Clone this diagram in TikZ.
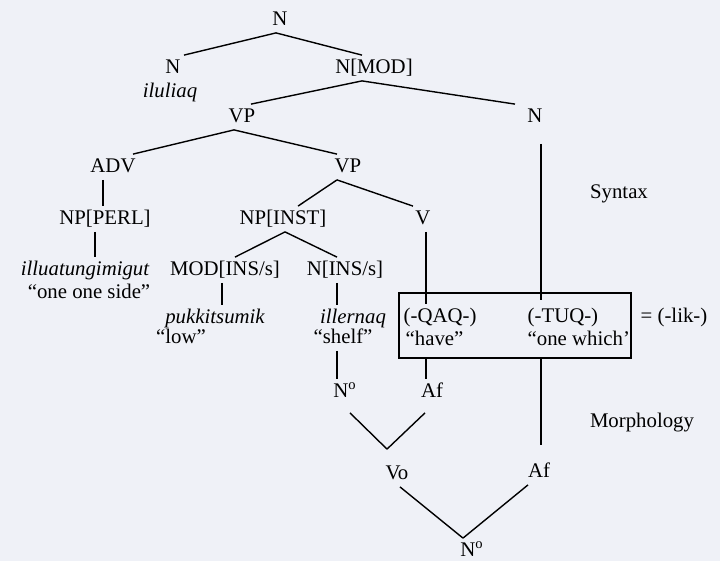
\documentclass[tikz,border=0pt]{standalone}
\usepackage{fontspec}
\setmainfont{Liberation Serif}
\usepackage{tikz}
\definecolor{paper}{RGB}{239,241,247}

\begin{document}
\begin{tikzpicture}[x = .5pt, y = -.5pt, line width = .7pt,
    lbl/.style = {font = \fontsize{10.4}{12}\selectfont, inner sep = 1.5pt, text height = 7.2pt, text depth = 2pt},
    word/.style = {lbl, font = \fontsize{10.4}{12}\selectfont\itshape}]
        \fill[paper] (0,0) rectangle (720,561);
        \node[lbl] (ntop) at (280,20) {N};
        \node[lbl] (nleft) at (173,68) {N};
        \node[word] (iluliaq) at (170,92) {iluliaq};
        \node[lbl] (nmod) at (374,68) {N[MOD]};
        \node[lbl] (vpa) at (242,117) {VP};
        \node[lbl] (nright) at (535,117) {N};
        \node[lbl] (adv) at (113,167) {ADV};
        \node[lbl] (vpb) at (348,167) {VP};
        \node[lbl] (syntax) at (619,193) {Syntax};
        \node[lbl] (npperl) at (105,219) {NP[PERL]};
        \node[lbl] (npinst) at (283,219) {NP[INST]};
        \node[lbl] (v) at (423,219) {V};
        \node[word] (illu) at (85,270) {illuatungimigut};
        \node[lbl] (oneside) at (89,293) {“one one side”};
        \node[lbl] (modins) at (225,270) {MOD[INS/s]};
        \node[lbl] (nins) at (345,270) {N[INS/s]};
        \node[word] (pukk) at (215,318) {pukkitsumik};
        \node[lbl] (low) at (181,338) {“low”};
        \node[word] (iller) at (353,318) {illernaq};
        \node[lbl] (shelf) at (343,338) {“shelf”};
        \node[draw, minimum width = 116pt, minimum height = 32.5pt, inner sep = 0pt] (box) at (515,325.5) {};
        \node[lbl, anchor = west] (qaq) at (400,317) {(-QAQ-)};
        \node[lbl, anchor = west] (have) at (402,340) {“have”};
        \node[lbl, anchor = west] (tuq) at (524,317) {(-TUQ-)};
        \node[lbl, anchor = west] (which) at (524,340) {“one which’};
        \node[lbl] (lik) at (674,317) {= (-lik-)};
        \node[lbl] (noa) at (345,392) {N\textsuperscript{o}};
        \node[lbl] (afa) at (432,392) {Af};
        \node[lbl] (morph) at (642,422) {Morphology};
        \node[lbl] (vo) at (397,474) {Vo};
        \node[lbl] (afb) at (539,472) {Af};
        \node[lbl] (nob) at (472,551) {N\textsuperscript{o}};
        \draw ([xshift = -2pt]ntop.south) -- ([xshift = 5.5pt]nleft.north);
        \draw ([xshift = -2pt]ntop.south) -- ([xshift = -6pt]nmod.north);
        \draw ([xshift = -6pt]nmod.south) -- ([xshift = 4.5pt]vpa.north);
        \draw ([xshift = -6pt]nmod.south) -- ([xshift = -10pt]nright.north);
        \draw ([xshift = -4pt]vpa.south) -- ([xshift = 10pt]adv.north);
        \draw ([xshift = -4pt]vpa.south) -- ([xshift = -5.5pt]vpb.north);
        \draw ([xshift = -5pt]adv.south) -- ([xshift = -5pt]adv.south |- npperl.north);
        \draw ([xshift = -5.5pt]vpb.south) -- ([xshift = 7.5pt]npinst.north);
        \draw ([xshift = -5.5pt]vpb.south) -- ([xshift = -5pt]v.north);
        \draw ([xshift = -5pt]npperl.south) -- ([xshift = -5pt]npperl.south |- illu.north);
        \draw ([xshift = 1pt]npinst.south) -- ([xshift = 5pt]modins.north);
        \draw ([xshift = 1pt]npinst.south) -- ([xshift = -4pt]nins.north);
        \draw ([xshift = -1.5pt]modins.south) -- ([xshift = -1.5pt]modins.south |- pukk.north);
        \draw ([xshift = -4pt]nins.south) -- ([xshift = -4pt]nins.south |- iller.north);
        \draw ([xshift = -4pt]nins.south |- shelf.south) -- ([xshift = -4pt]nins.south |- noa.north);
        \draw ([xshift = 1.5pt]v.south) -- ([xshift = 1.5pt]v.south |- qaq.north);
        \draw ([xshift = 1.5pt]v.south |- box.south) -- ([xshift = 1.5pt]v.south |- afa.north);
        \draw ([xshift = 3pt, yshift = -7pt]nright.south) -- ([xshift = 3pt, yshift = -4pt]nright.south |- box.north);
        \draw ([xshift = 3pt]nright.south |- box.south) -- ([xshift = 3pt, yshift = 7pt]nright.south |- afb.north);
        \draw ([xshift = 2.5pt, yshift = -4pt]noa.south) -- ([xshift = -5pt, yshift = 6pt]vo.north);
        \draw ([xshift = -3.5pt, yshift = -4pt]afa.south) -- ([xshift = -5pt, yshift = 6pt]vo.north);
        \draw ([xshift = 1.5pt]vo.south) -- ([xshift = -4.5pt]nob.north);
        \draw ([xshift = -5.5pt]afb.south) -- ([xshift = -4.5pt]nob.north);
      \end{tikzpicture}
\end{document}
